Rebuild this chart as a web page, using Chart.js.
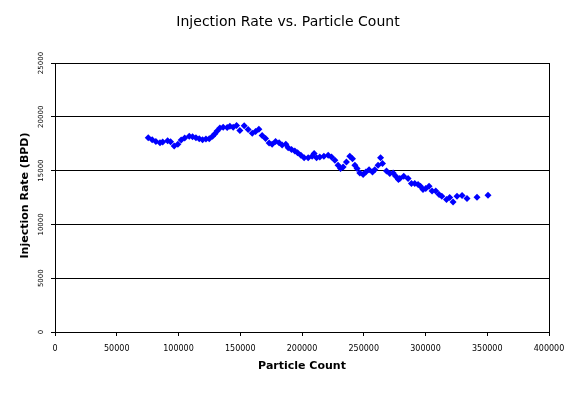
<!DOCTYPE html>
<html>
<head>
<meta charset="utf-8">
<script src="https://cdn.jsdelivr.net/npm/chart.js@4/dist/chart.umd.min.js"></script>
<style>
  body { margin: 0; background: #fff; }
  canvas { display: block; }
</style>
</head>
<body>
<canvas id="injChart" width="576" height="394"></canvas>
<script>
// data
var particleCount = [
  75500, 78700, 81700, 85000, 87200, 91200, 93600, 96500, 99500, 102200,
  105000, 108700, 111400, 114100, 116800, 119500, 122200, 124900, 127600, 129500,
  131300, 133500, 136200, 139400, 141600, 144300, 147000, 149700, 153200, 156400,
  159700, 162400, 165100, 167700, 170500, 173400, 175800, 178600, 181500, 183900,
  186900, 188800, 191500, 194200, 196400, 199100, 201700, 205000, 208200, 209800,
  211800, 214400, 217700, 221200, 223900, 226600, 229200, 231200, 233300, 236000,
  238700, 240900, 242800, 244600, 246800, 249500, 251700, 254300, 257100, 258900,
  261600, 263600, 265200, 268400, 271100, 273800, 275900, 278100, 279200, 282400,
  285900, 288600, 291300, 294000, 295900, 298000, 300200, 302900, 305300, 308300,
  311000, 313200, 317000, 319600, 322300, 325500, 329600, 333600, 341700, 350600
];
var injectionRate = [
  18060, 17870, 17710, 17590, 17650, 17780, 17690, 17280, 17440, 17840,
  18020, 18200, 18150, 18060, 17960, 17870, 17930, 17960, 18200, 18430,
  18670, 18950, 19040, 19010, 19130, 19040, 19200, 18730, 19170, 18830,
  18480, 18640, 18850, 18270, 17990, 17560, 17440, 17710, 17590, 17370,
  17440, 17130, 16950, 16820, 16670, 16420, 16200, 16200, 16330, 16580,
  16200, 16260, 16330, 16420, 16260, 15960, 15490, 15190, 15340, 15800,
  16330, 16110, 15490, 15190, 14780, 14630, 14870, 15090, 14870, 15090,
  15490, 16200, 15650, 14960, 14720, 14780, 14470, 14170, 14260, 14470,
  14260, 13800, 13800, 13700, 13550, 13240, 13330, 13550, 13110, 13110,
  12780, 12620, 12320, 12500, 12090, 12620, 12690, 12410, 12530, 12710
];
var xTicks = [0, 50000, 100000, 150000, 200000, 250000, 300000, 350000, 400000];
var yTicks = [0, 5000, 10000, 15000, 20000, 25000];

var chartTitle = "Injection Rate vs. Particle Count";
var xTitle = "Particle Count";
var yTitle = "Injection Rate (BPD)";

var points = particleCount.map(function(x, i){
    return {x: x, y: injectionRate[i]};
});

// title, rotated y labels, axis titles and right border
var extras = {
    id: "extras",
    afterDraw: function(chart){
        var ctx = chart.ctx;
        var area = chart.chartArea;
        var yScale = chart.scales.y;
        ctx.save();
        ctx.fillStyle = "#000";
        ctx.textAlign = "center";
        ctx.textBaseline = "middle";

        ctx.font = "14px 'DejaVu Sans'";
        ctx.fillText(chartTitle, 288, 22);

        ctx.font = "bold 11px 'DejaVu Sans'";
        ctx.fillText(xTitle, (area.left + area.right) / 2, 366);

        ctx.save();
        ctx.translate(25, (area.top + area.bottom) / 2 - 2);
        ctx.rotate(-Math.PI / 2);
        ctx.fillText(yTitle, 0, 0);
        ctx.restore();

        ctx.font = "7px 'DejaVu Sans'";
        yTicks.forEach(function(v){
            ctx.save();
            ctx.translate(41, yScale.getPixelForValue(v));
            ctx.rotate(-Math.PI / 2);
            ctx.fillText(String(v), 0, 0);
            ctx.restore();
        });

        ctx.strokeStyle = "#000";
        ctx.lineWidth = 1;
        ctx.beginPath();
        ctx.moveTo(Math.round(area.right) + 0.5, area.top);
        ctx.lineTo(Math.round(area.right) + 0.5, area.bottom);
        ctx.stroke();
        ctx.restore();
    }
};

var injChart = new Chart(document.getElementById("injChart"), {
    type: "scatter",
    data: {
        datasets: [{
            label: "Injection Rate",
            data: points,
            backgroundColor: "#0000FF",
            borderColor: "#0000FF",
            borderWidth: 0,
            pointStyle: "rectRot",
            pointRadius: 3.5,
            pointHoverRadius: 3.5
        }]
    },
    options: {
        responsive: false,
        animation: false,
        events: [],
        layout: { padding: { left: 0, right: 27, top: 63, bottom: 0 } },
        plugins: {
            legend: { display: false },
            title: { display: false },
            tooltip: { enabled: false }
        },
        scales: {
            x: {
                type: "linear",
                min: 0,
                max: 400000,
                afterBuildTicks: function(s){
                    s.ticks = xTicks.map(function(v){ return {value: v}; });
                },
                afterFit: function(s){ s.height = 62; },
                border: { color: "#000", width: 1 },
                grid: { drawOnChartArea: false, color: "#000", tickLength: 4 },
                ticks: {
                    color: "#000",
                    font: { family: "DejaVu Sans", size: 8 },
                    maxRotation: 0,
                    padding: 8,
                    callback: function(v){ return String(v); }
                }
            },
            y: {
                type: "linear",
                min: 0,
                max: 25000,
                afterBuildTicks: function(s){
                    s.ticks = yTicks.map(function(v){ return {value: v}; });
                },
                afterFit: function(s){ s.width = 55; },
                border: { color: "#000", width: 1 },
                grid: { color: "#000", tickLength: 4 },
                ticks: { display: false }
            }
        }
    },
    plugins: [extras]
});
</script>
</body>
</html>
